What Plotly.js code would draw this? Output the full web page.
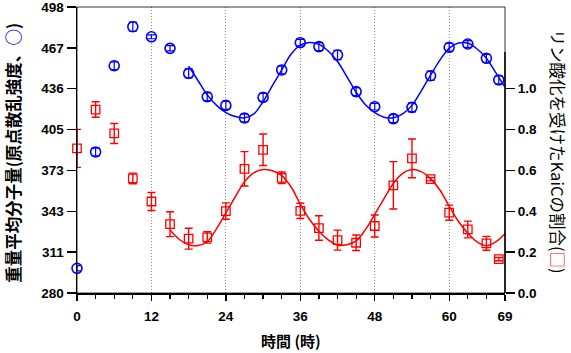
<!DOCTYPE html>
<html>
<head>
<meta charset="utf-8">
<script src="https://cdn.plot.ly/plotly-3.0.1.min.js"></script>
<style>html,body{margin:0;padding:0;background:#fff;}#chart{width:571px;height:353px;}</style>
</head>
<body>
<div id="chart"></div>
<script>
// Sampling times (h)
const sampleTimes = [0,3,6,9,12,15,18,21,24,27,30,33,36,39,42,45,48,51,54,57,60,63,66,68];
// Weight-average molecular weight (left axis, blue circles)
const molWeight = [298.8,387.5,453.2,483,475.3,466.5,447.4,429.6,423,413.4,429.1,450,470.8,467.8,461.4,433.5,422,412.9,421.5,445.6,467.3,469.8,458.9,442.4];
const molWeightErr = [2,3,3,3.5,1.5,2,3.5,3,3,3,3,3,2.5,3,3.5,3,2.5,3,3.5,3.5,3,2.5,3,3];
// Phosphorylated KaiC fraction (right axis, red squares)
const phosFrac = [0.708,0.898,0.781,0.561,0.448,0.337,0.266,0.272,0.401,0.608,0.701,0.564,0.402,0.318,0.259,0.246,0.328,0.527,0.659,0.557,0.393,0.311,0.243,0.166];
const phosFracErr = [0.093,0.038,0.049,0.026,0.044,0.061,0.051,0.028,0.04,0.084,0.077,0.028,0.037,0.06,0.049,0.038,0.054,0.116,0.095,0.008,0.037,0.041,0.034,0.008];
// Fitted curves
const fitBlueT = [18,19.5,21,22.5,24,25.5,27,28.5,30,31.5,33,34.5,36,37.5,39,40.5,42,43.5,45,46.5,48,49.5,51,52.5,54,55.5,57,58.5,60,61.5,63,64.5,66,67.5,69];
const fitBlueV = [453,442,431,423,417.5,414.5,413.5,416.5,426,438,450,462,469,471,469.5,464.5,456.5,445,433,423.5,417.5,414,413.5,416.5,423,434,446,457.5,466.5,470.5,470.5,466,459,448,437];
const fitRedT = [15,16.5,18,19.5,21,22.5,24,25.5,27,28.5,30,31.5,33,34.5,36,37.5,39,40.5,42,43.5,45,46.5,48,49.5,51,52.5,54,55.5,57,58.5,60,61.5,63,64.5,66,67.5,69];
const fitRedV = [0.308,0.262,0.236,0.232,0.252,0.315,0.392,0.47,0.544,0.588,0.604,0.598,0.575,0.52,0.435,0.36,0.302,0.26,0.234,0.236,0.255,0.31,0.385,0.462,0.536,0.586,0.604,0.594,0.56,0.504,0.425,0.35,0.293,0.25,0.231,0.25,0.29];
// Tick labels
const xTickVals = [0,12,24,36,48,60,69];
const xTickText = ['0','12','24','36','48','60','69'];
const xMinorVals = [3,6,9,15,18,21,27,30,33,39,42,45,51,54,57,63,66];
const leftTickText = ['280','311','343','373','405','436','467','498'];
const rightTickVals = [0,0.2,0.4,0.6,0.8,1.0];

const BLUE = '#0000ff', RED = '#ff0000';
const yMin = 280, yMax = 498;
const leftTickVals = leftTickText.map((_, k) => yMin + k * (yMax - yMin) / (leftTickText.length - 1));

const tickFont = {family: 'Liberation Sans, Arial, sans-serif', size: 13.5, color: '#000', weight: 'bold'};

const traces = [
  {x: fitBlueT, y: fitBlueV, mode: 'lines', line: {color: BLUE, width: 1.5, shape: 'spline'}, yaxis: 'y', hoverinfo: 'skip'},
  {x: fitRedT, y: fitRedV, mode: 'lines', line: {color: RED, width: 1.5, shape: 'spline'}, yaxis: 'y2', hoverinfo: 'skip'},
  {x: sampleTimes, y: molWeight, mode: 'markers', yaxis: 'y', cliponaxis: false,
   marker: {symbol: 'circle-open', size: 10, color: BLUE, line: {width: 1.6, color: BLUE}},
   error_y: {type: 'data', array: molWeightErr, visible: true, color: BLUE, thickness: 1.2, width: 4}},
  {x: sampleTimes, y: phosFrac, mode: 'markers', yaxis: 'y2', cliponaxis: false,
   marker: {symbol: 'square-open', size: 8.5, color: RED, line: {width: 1.3, color: RED}},
   error_y: {type: 'data', array: phosFracErr, visible: true, color: RED, thickness: 1.4, width: 4}}
];

const layout = {
  width: 571, height: 353,
  margin: {l: 77, r: 66, t: 7, b: 60},
  paper_bgcolor: '#fff', plot_bgcolor: '#fff',
  showlegend: false,
  xaxis: {
    range: [0, 69], tickmode: 'array', tickvals: xTickVals, ticktext: xTickText,
    ticks: 'outside', ticklen: 6, tickwidth: 1.3, tickcolor: '#000', ticklabelstandoff: 4,
    showline: true, linecolor: '#000', linewidth: 1.5,
    showgrid: true, gridcolor: '#8c8c8c', griddash: '1px,2px', gridwidth: 1,
    zeroline: false, tickfont: tickFont,
    minor: {tickmode: 'array', tickvals: xMinorVals, ticks: 'outside', ticklen: 4, tickwidth: 1.2, tickcolor: '#000', showgrid: false}
  },
  yaxis: {
    range: [yMin, yMax + 1e-6], tickmode: 'array', tickvals: leftTickVals.map(v => Math.round(v * 1000) / 1000), ticktext: leftTickText,
    ticks: 'outside', ticklen: 9, tickwidth: 1.3, tickcolor: '#000', ticklabeloverflow: 'allow',
    showline: true, linecolor: '#000', linewidth: 1.5,
    showgrid: false, zeroline: false, tickfont: tickFont
  },
  yaxis2: {
    range: [0, 1.4], overlaying: 'y', side: 'right',
    tickmode: 'array', tickvals: rightTickVals, tickformat: '.1f',
    ticks: 'outside', ticklen: 9, tickwidth: 1.3, tickcolor: '#000',
    showline: false, showgrid: false, zeroline: false, tickfont: tickFont
  },
  shapes: [
    {type: 'rect', xref: 'paper', yref: 'paper', x0: 0, x1: 1, y0: 0, y1: 1, line: {color: '#000', width: 0.8}},
    {type: 'line', xref: 'paper', yref: 'y2', x0: 1, x1: 1, y0: 0, y1: 1.18, line: {color: '#000', width: 1.5}}
  ],
  annotations: [
    {xref: 'paper', yref: 'paper', x: 0.5, y: -0.166, xanchor: 'center', yanchor: 'middle', showarrow: false,
     text: '時間 (時)', font: {family: 'Noto Sans CJK JP, sans-serif', size: 15, color: '#000', weight: 'bold'}},
    {xref: 'paper', yref: 'paper', x: -0.1495, y: 0.49, xanchor: 'center', yanchor: 'middle', textangle: -90, showarrow: false,
     text: '重量平均分子量(原点散乱強度、<span style="color:#0000ff">○</span>)',
     font: {family: 'Noto Sans CJK JP, sans-serif', size: 16.5, color: '#000', weight: 'bold'}},
    {xref: 'paper', yref: 'paper', x: 1.1238, y: 0.495, xanchor: 'center', yanchor: 'middle', textangle: 90, showarrow: false,
     text: 'リン酸化を受けたKaiCの割合(<span style="color:#ff0000">□</span>)',
     font: {family: 'Noto Sans CJK JP, sans-serif', size: 16.5, color: '#000', weight: 'normal'}}
  ]
};

Plotly.newPlot('chart', traces, layout, {displayModeBar: false, staticPlot: true});
</script>
</body>
</html>
